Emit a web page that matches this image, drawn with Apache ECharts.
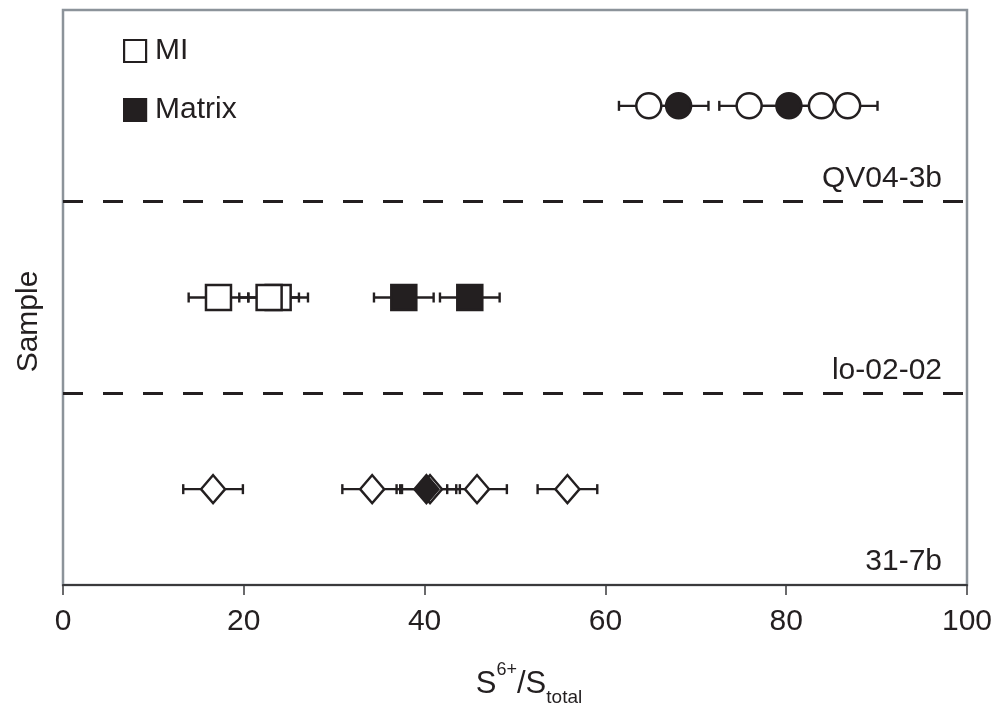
<!DOCTYPE html>
<html>
<head>
<meta charset="utf-8">
<script src="https://cdn.jsdelivr.net/npm/echarts@6/dist/echarts.min.js"></script>
<style>
  html, body { margin: 0; padding: 0; background: #ffffff; }
  #chart { width: 994px; height: 706px; }
</style>
</head>
<body>
<div id="chart"></div>
<script>
// Sample rows, bottom to top; each row sits between integer y boundaries.
const sampleNames = ['31-7b', 'lo-02-02', 'QV04-3b'];
const rowCenters = [0.5, 1.5, 2.5];
const rowSymbols = ['diamond', 'rect', 'circle'];

// S6+/Stotal (%) per sample row, melt inclusions (MI) and matrix glass
const miValues = [
  [16.6, 34.2, 40.6, 45.8, 55.8],
  [23.8, 22.8, 17.2],
  [64.8, 75.9, 83.9, 86.8]
];
const matrixValues = [
  [40.2],
  [37.7, 45.0],
  [68.1, 80.3]
];
// Analytical uncertainty (± absolute %)
const errorHalfWidth = 3.3;

const xTicks = [0, 20, 40, 60, 80, 100];

const INK = '#231f20';
const FONT = '"Liberation Sans", Arial, Helvetica, sans-serif';

function toPoints(groups) {
  const pts = [];
  groups.forEach((vals, r) => vals.forEach(v => pts.push([v, rowCenters[r], r])));
  return pts;
}
const miPoints = toPoints(miValues);
const matrixPoints = toPoints(matrixValues);
const allPoints = miPoints.concat(matrixPoints);

const symbolSizes = { diamond: [24, 28], rect: [25, 25], circle: [25, 25] };
const symbolFor = v => rowSymbols[v[2]];
const sizeFor = v => symbolSizes[rowSymbols[v[2]]];

const chart = echarts.init(document.getElementById('chart'), null, { renderer: 'canvas' });

chart.setOption({
  backgroundColor: '#ffffff',
  animation: false,
  textStyle: { fontFamily: FONT, color: INK },
  grid: {
    left: 63, right: 27, top: 10, bottom: 121,
    containLabel: false,
    outerBoundsMode: 'none',
    show: true, borderColor: '#8c939a', borderWidth: 2.5, backgroundColor: 'transparent'
  },
  legend: {
    orient: 'vertical',
    left: 123, top: 36, padding: 0,
    itemWidth: 22, itemHeight: 22, itemGap: 29,
    selectedMode: false,
    textStyle: { fontSize: 30, color: INK, fontFamily: FONT, padding: [0, 0, 0, 4] },
    data: [
      { name: 'MI', icon: 'rect', itemStyle: { color: '#ffffff', borderColor: INK, borderWidth: 2.2 } },
      { name: 'Matrix', icon: 'rect', itemStyle: { color: INK, borderColor: INK, borderWidth: 2.2 } }
    ]
  },
  xAxis: {
    type: 'value',
    min: xTicks[0], max: xTicks[xTicks.length - 1], interval: 20,
    axisLine: { show: true, onZero: false, lineStyle: { color: '#3a3a3c', width: 2 } },
    axisTick: { show: true, length: 10, lineStyle: { color: '#3a3a3c', width: 1.5 } },
    axisLabel: { fontSize: 30, color: INK, margin: 22, fontFamily: FONT },
    splitLine: { show: false },
    name: '{s|S}{sup|6+}{s|/S}{sub|total}',
    nameLocation: 'middle',
    nameGap: 76,
    nameTextStyle: {
      color: INK, fontFamily: FONT,
      padding: [0, 0, 0, 28],
      rich: {
        s: { fontSize: 31, lineHeight: 46, verticalAlign: 'middle', color: INK, fontFamily: FONT },
        sup: { fontSize: 18, lineHeight: 28, verticalAlign: 'top', color: INK, fontFamily: FONT },
        sub: { fontSize: 19, lineHeight: 26, verticalAlign: 'bottom', color: INK, fontFamily: FONT }
      }
    }
  },
  yAxis: {
    type: 'value',
    min: 0, max: 3, interval: 1,
    axisLine: { show: false },
    axisTick: { show: false },
    axisLabel: { show: false },
    splitLine: { show: false },
    name: 'Sample',
    nameLocation: 'middle',
    nameGap: 19,
    nameTextStyle: { fontSize: 30, color: INK, fontFamily: FONT, padding: [0, 48, 0, 0] }
  },
  series: [
    {
      // horizontal error bars with end caps
      type: 'custom',
      name: 'err',
      z: 2,
      silent: true,
      data: allPoints,
      renderItem: function (params, api) {
        const x = api.value(0), y = api.value(1);
        const a = api.coord([x - errorHalfWidth, y]);
        const b = api.coord([x + errorHalfWidth, y]);
        const h = 5;
        const st = { stroke: INK, lineWidth: 2.4 };
        return {
          type: 'group',
          children: [
            { type: 'line', shape: { x1: a[0], y1: a[1], x2: b[0], y2: b[1] }, style: st },
            { type: 'line', shape: { x1: a[0], y1: a[1] - h, x2: a[0], y2: a[1] + h }, style: st },
            { type: 'line', shape: { x1: b[0], y1: b[1] - h, x2: b[0], y2: b[1] + h }, style: st }
          ]
        };
      },
      markLine: {
        silent: true,
        symbol: 'none',
        label: { show: false },
        lineStyle: { color: INK, width: 2.8, type: [20, 20] },
        data: [{ yAxis: 1 }, { yAxis: 2 }]
      }
    },
    {
      // sample names above each row boundary
      type: 'custom',
      name: 'names',
      z: 3,
      silent: true,
      data: sampleNames.map((n, i) => [100, i, n]),
      renderItem: function (params, api) {
        const p = api.coord([api.value(0), api.value(1)]);
        return {
          type: 'text',
          style: {
            text: sampleNames[params.dataIndex],
            x: p[0] - 25, y: p[1] - 8,
            align: 'right', verticalAlign: 'bottom',
            fontSize: 30, fontFamily: FONT, fill: INK
          }
        };
      }
    },
    {
      type: 'scatter',
      name: 'MI',
      z: 4,
      data: miPoints,
      symbol: symbolFor,
      symbolSize: sizeFor,
      itemStyle: { color: '#ffffff', borderColor: INK, borderWidth: 2.5, opacity: 1 }
    },
    {
      type: 'scatter',
      name: 'Matrix',
      z: 5,
      data: matrixPoints,
      symbol: symbolFor,
      symbolSize: sizeFor,
      itemStyle: { color: INK, borderColor: INK, borderWidth: 2.5, opacity: 1 }
    }
  ]
});
</script>
</body>
</html>
